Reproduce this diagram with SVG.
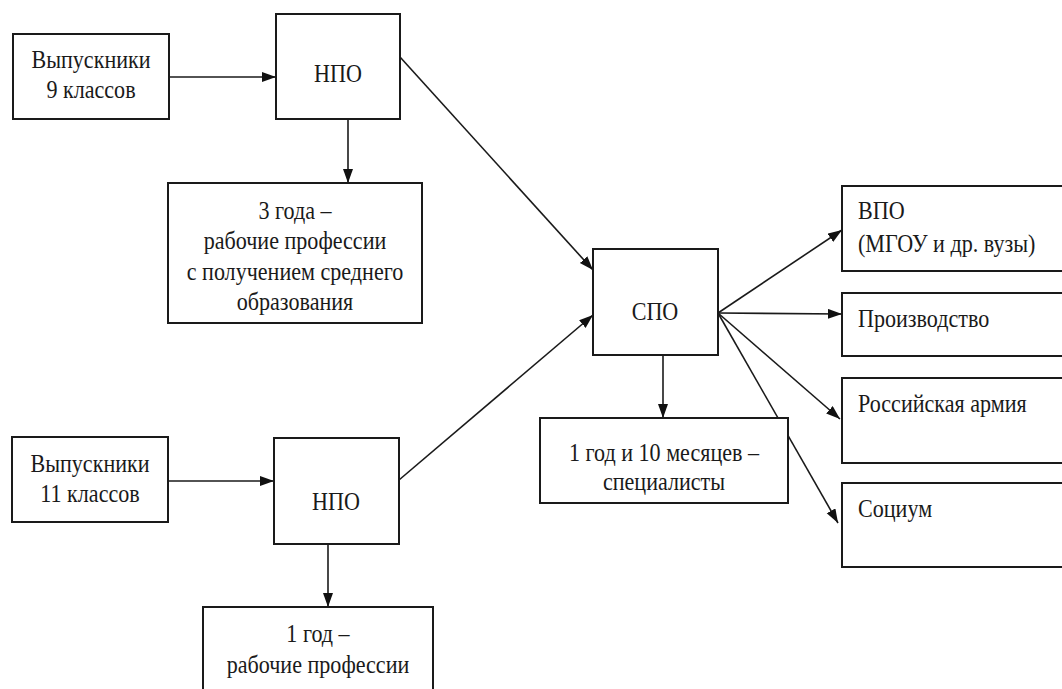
<svg xmlns="http://www.w3.org/2000/svg" width="1062" height="689" viewBox="0 0 1062 689" font-family="Liberation Serif, Times New Roman, Times, serif">
<defs>
<marker id="ah" markerUnits="userSpaceOnUse" markerWidth="15" markerHeight="11" refX="14" refY="5" orient="auto">
<path d="M0,0 L14,5 L0,10 z" fill="#111"/>
</marker>
<style>
.box{fill:#fff;stroke:#1a1a1a;stroke-width:2}
.t{font-size:26px;fill:#1a1a1a}
.c{text-anchor:middle}
.ln{stroke:#1a1a1a;stroke-width:1.6;fill:none;marker-end:url(#ah)}
</style>
</defs>
<rect width="1062" height="689" fill="#fff"/>
<g id="connectors">
<line class="ln" x1="169" y1="77" x2="276" y2="77"/>
<line class="ln" x1="348" y1="119" x2="348" y2="183"/>
<line class="ln" x1="400" y1="57" x2="593" y2="270"/>
<line class="ln" x1="168" y1="481" x2="274" y2="481"/>
<line class="ln" x1="328" y1="544" x2="328" y2="607"/>
<line class="ln" x1="399" y1="480" x2="593" y2="315"/>
<line class="ln" x1="663" y1="355" x2="663" y2="418"/>
<line class="ln" x1="718" y1="313" x2="842" y2="230"/>
<line class="ln" x1="718" y1="313" x2="842" y2="314"/>
<line class="ln" x1="718" y1="313" x2="840" y2="419"/>
<line class="ln" x1="718" y1="313" x2="838" y2="523"/>
</g>
<g id="grad9">
<rect class="box" x="13" y="34" width="156" height="85"/>
<text class="t c" transform="translate(91,68) scale(0.85,1)">Выпускники</text>
<text class="t c" transform="translate(91,98) scale(0.85,1)">9 классов</text>
</g>
<g id="npo1">
<rect class="box" x="276" y="14" width="124" height="105"/>
<text class="t c" transform="translate(338,82) scale(0.85,1)">НПО</text>
</g>
<g id="three-years">
<rect class="box" x="168" y="183" width="254" height="140"/>
<text class="t c" transform="translate(295,219) scale(0.85,1)">3 года –</text>
<text class="t c" transform="translate(295,249) scale(0.85,1)">рабочие профессии</text>
<text class="t c" transform="translate(295,280) scale(0.85,1)">с получением среднего</text>
<text class="t c" transform="translate(295,310) scale(0.85,1)">образования</text>
</g>
<g id="grad11">
<rect class="box" x="12" y="437" width="156" height="85"/>
<text class="t c" transform="translate(90,472) scale(0.85,1)">Выпускники</text>
<text class="t c" transform="translate(90,502) scale(0.85,1)">11 классов</text>
</g>
<g id="npo2">
<rect class="box" x="274" y="438" width="125" height="106"/>
<text class="t c" transform="translate(336,510) scale(0.85,1)">НПО</text>
</g>
<g id="one-year">
<rect class="box" x="203" y="607" width="230" height="95"/>
<text class="t c" transform="translate(318,642) scale(0.85,1)">1 год –</text>
<text class="t c" transform="translate(318,673) scale(0.85,1)">рабочие профессии</text>
</g>
<g id="spo">
<rect class="box" x="593" y="249" width="125" height="106"/>
<text class="t c" transform="translate(655,320) scale(0.85,1)">СПО</text>
</g>
<g id="specialists">
<rect class="box" x="540" y="418" width="248" height="85"/>
<text class="t c" transform="translate(664,461) scale(0.85,1)">1 год и 10 месяцев –</text>
<text class="t c" transform="translate(664,490) scale(0.85,1)">специалисты</text>
</g>
<g id="vpo">
<rect class="box" x="842" y="186" width="230" height="85"/>
<text class="t" transform="translate(858,219) scale(0.85,1)">ВПО</text>
<text class="t" transform="translate(858,252) scale(0.85,1)">(МГОУ и др. вузы)</text>
</g>
<g id="production">
<rect class="box" x="842" y="293" width="230" height="63"/>
<text class="t" transform="translate(858,327) scale(0.85,1)">Производство</text>
</g>
<g id="army">
<rect class="box" x="842" y="378" width="230" height="85"/>
<text class="t" transform="translate(858,412) scale(0.85,1)">Российская армия</text>
</g>
<g id="society">
<rect class="box" x="842" y="483" width="230" height="84"/>
<text class="t" transform="translate(858,517) scale(0.85,1)">Социум</text>
</g>
</svg>
